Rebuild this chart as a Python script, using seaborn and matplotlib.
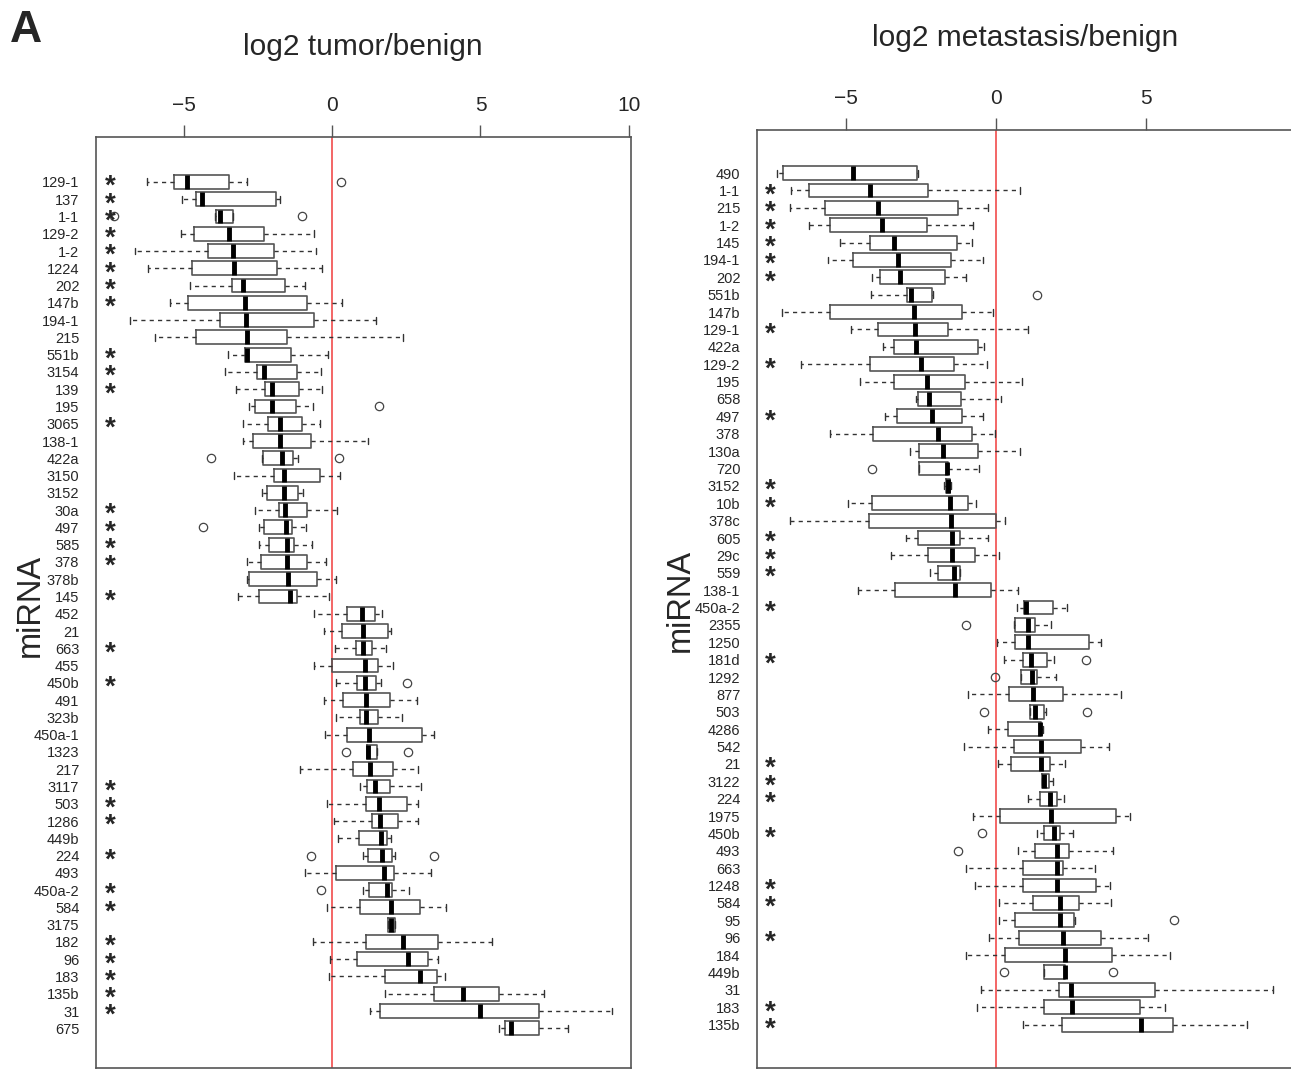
import numpy as np
import matplotlib
matplotlib.use("Agg")
from matplotlib import pyplot as plt
from matplotlib import transforms
from matplotlib.font_manager import FontProperties
import seaborn as sns

# Left panel - log2 tumor/benign (five number summaries)
TUMOR_MIRNA = ["129-1", "137", "1-1", "129-2", "1-2", "1224", "202", "147b", "194-1", "215",
               "551b", "3154", "139", "195", "3065", "138-1", "422a", "3150", "3152", "30a",
               "497", "585", "378", "378b", "145", "452", "21", "663", "455", "450b",
               "491", "323b", "450a-1", "1323", "217", "3117", "503", "1286", "449b", "224",
               "493", "450a-2", "584", "3175", "182", "96", "183", "135b", "31", "675"]
TUMOR_LO = [-6.22, -5.05, -3.95, -5.08, -6.64, -6.21, -4.79, -5.47, -6.80, -5.95,
            -3.51, -3.60, -3.22, -2.78, -2.99, -3.01, -2.37, -3.31, -2.35, -2.61,
            -2.46, -2.46, -2.86, -2.88, -3.18, -0.61, -0.26, 0.10, -0.61, 0.13,
            -0.27, 0.13, -0.25, 1.19, -1.07, 0.94, -0.18, 0.06, 0.19, 1.05,
            -0.92, 1.03, -0.16, 1.88, -0.65, -0.08, -0.10, 1.79, 1.28, 5.61]
TUMOR_Q1 = [-5.32, -4.59, -3.90, -4.64, -4.19, -4.73, -3.36, -4.86, -3.79, -4.59,
            -2.92, -2.54, -2.26, -2.61, -2.15, -2.65, -2.34, -1.95, -2.19, -1.77,
            -2.28, -2.13, -2.38, -2.81, -2.46, 0.49, 0.32, 0.80, 0.00, 0.85,
            0.38, 0.93, 0.52, 1.19, 0.72, 1.18, 1.13, 1.33, 0.91, 1.22,
            0.12, 1.25, 0.93, 1.88, 1.16, 0.83, 1.77, 3.42, 1.63, 5.82]
TUMOR_MED = [-4.89, -4.37, -3.79, -3.47, -3.34, -3.29, -2.99, -2.94, -2.91, -2.87,
             -2.87, -2.29, -2.02, -2.02, -1.76, -1.76, -1.69, -1.63, -1.63, -1.58,
             -1.54, -1.53, -1.50, -1.47, -1.40, 1.00, 1.03, 1.05, 1.10, 1.11,
             1.16, 1.16, 1.23, 1.22, 1.28, 1.44, 1.59, 1.60, 1.64, 1.68,
             1.75, 1.86, 1.97, 1.99, 2.38, 2.56, 2.96, 4.42, 4.99, 6.02]
TUMOR_Q3 = [-3.48, -1.89, -3.35, -2.28, -1.95, -1.85, -1.58, -0.85, -0.60, -1.53,
            -1.37, -1.18, -1.10, -1.23, -1.02, -0.70, -1.33, -0.40, -1.13, -0.85,
            -1.36, -1.28, -0.85, -0.49, -1.18, 1.46, 1.88, 1.33, 1.54, 1.49,
            1.94, 1.54, 3.04, 1.53, 2.06, 1.95, 2.54, 2.21, 1.86, 2.01,
            2.08, 2.01, 2.96, 2.11, 3.57, 3.23, 3.53, 5.63, 6.96, 6.97]
TUMOR_HI = [-2.88, -1.75, -3.33, -0.60, -0.53, -0.34, -0.91, 0.35, 1.47, 2.39,
            -0.13, -0.36, -0.34, -0.63, -0.41, 1.22, -1.16, 0.28, -0.98, 0.18,
            -0.88, -0.69, -0.21, 0.12, -0.09, 1.68, 1.98, 1.82, 2.06, 1.66,
            2.87, 2.35, 3.45, 1.53, 2.91, 3.01, 2.90, 2.90, 1.99, 2.13,
            3.32, 2.60, 3.83, 2.11, 5.38, 3.56, 3.82, 7.13, 9.44, 7.96]
TUMOR_OUTLIERS = {"129-1": [0.31], "1-1": [-7.33, -1.01], "195": [1.59],
                  "422a": [-4.07, 0.25], "497": [-4.35], "450b": [2.51],
                  "1323": [0.47, 2.55], "224": [-0.71, 3.45], "450a-2": [-0.36]}
TUMOR_STARS = ["129-1", "137", "1-1", "129-2", "1-2", "1224", "202", "147b", "551b", "3154",
               "139", "3065", "30a", "497", "585", "378", "145", "663", "450b", "3117",
               "503", "1286", "224", "450a-2", "584", "182", "96", "183", "135b", "31"]
TUMOR_TICKS = [-5, 0, 5, 10]

# Right panel - log2 metastasis/benign
MET_MIRNA = ["490", "1-1", "215", "1-2", "145", "194-1", "202", "551b", "147b", "129-1",
             "422a", "129-2", "195", "658", "497", "378", "130a", "720", "3152", "10b",
             "378c", "605", "29c", "559", "138-1", "450a-2", "2355", "1250", "181d", "1292",
             "877", "503", "4286", "542", "21", "3122", "224", "1975", "450b", "493",
             "663", "1248", "584", "95", "96", "184", "449b", "31", "183", "135b"]
MET_LO = [-7.29, -6.83, -6.88, -6.23, -5.20, -5.59, -4.15, -4.16, -7.13, -4.85,
          -3.76, -6.50, -4.54, -2.67, -3.71, -5.55, -2.87, -2.56, -1.74, -4.95,
          -6.88, -3.02, -3.52, -2.22, -4.62, 0.70, 0.61, 0.03, 0.26, 0.84,
          -0.95, 1.14, -0.26, -1.07, 0.06, 1.53, 1.07, -0.76, 1.35, 0.74,
          -1.00, -0.70, 0.09, 0.11, -0.25, -1.00, 1.60, -0.49, -0.65, 0.88]
MET_Q1 = [-7.09, -6.23, -5.69, -5.53, -4.22, -4.76, -3.87, -2.98, -5.53, -3.95,
          -3.42, -4.20, -3.42, -2.61, -3.32, -4.10, -2.56, -2.56, -1.67, -4.15,
          -4.25, -2.61, -2.27, -1.94, -3.37, 0.93, 0.64, 0.64, 0.89, 0.84,
          0.44, 1.14, 0.38, 0.59, 0.50, 1.53, 1.47, 0.14, 1.60, 1.28,
          0.89, 0.89, 1.23, 0.64, 0.76, 0.30, 1.60, 2.11, 1.58, 2.19]
MET_MED = [-4.76, -4.21, -3.95, -3.82, -3.41, -3.28, -3.21, -2.83, -2.74, -2.72,
           -2.66, -2.49, -2.29, -2.23, -2.14, -1.93, -1.77, -1.64, -1.62, -1.54,
           -1.49, -1.47, -1.47, -1.42, -1.38, 1.00, 1.05, 1.05, 1.15, 1.18,
           1.23, 1.30, 1.47, 1.50, 1.50, 1.58, 1.78, 1.84, 1.92, 2.02,
           2.04, 2.04, 2.14, 2.14, 2.24, 2.28, 2.31, 2.49, 2.53, 4.84]
MET_Q3 = [-2.63, -2.27, -1.27, -2.31, -1.29, -1.49, -1.72, -2.13, -1.14, -1.62,
          -0.60, -1.39, -1.03, -1.18, -1.14, -0.80, -0.59, -1.62, -1.54, -0.94,
          0.00, -1.20, -0.70, -1.22, -0.18, 1.90, 1.30, 3.10, 1.70, 1.35,
          2.24, 1.58, 1.49, 2.84, 1.80, 1.75, 2.02, 3.98, 2.12, 2.44,
          2.23, 3.33, 2.77, 2.59, 3.48, 3.85, 2.31, 5.29, 4.80, 5.89]
MET_HI = [-2.59, 0.79, -0.26, -0.78, -0.81, -0.43, -0.99, -2.11, -0.11, 1.05,
          -0.39, -0.29, 0.86, 0.16, -0.43, -0.05, 0.79, -0.58, -1.49, -0.68,
          0.29, -0.26, 0.09, -1.19, 0.74, 2.36, 1.84, 3.51, 1.94, 1.98,
          4.16, 1.67, 1.55, 3.75, 2.28, 1.88, 2.27, 4.46, 2.57, 3.88,
          3.28, 3.81, 3.83, 2.63, 5.05, 5.78, 2.31, 9.24, 5.63, 8.37]
MET_OUTLIERS = {"551b": [1.37], "720": [-4.15], "2355": [-1.02], "181d": [3.01],
                "1292": [-0.03], "503": [-0.39, 3.03], "493": [-1.27], "450b": [-0.46],
                "95": [5.94], "449b": [0.26, 3.90]}
MET_STARS = ["1-1", "215", "1-2", "145", "194-1", "202", "129-1", "129-2", "497", "3152",
             "10b", "605", "29c", "559", "450a-2", "181d", "21", "3122", "224", "450b",
             "1248", "584", "96", "183", "135b"]
MET_TICKS = [-5, 0, 5]

FONT = ["Liberation Sans", "DejaVu Sans"]
FRAME = "#555555"
STAR_SIZE = 20


def build_stats(names, lo, q1, med, q3, hi, outliers):
    # bxp wants a list of dicts, one per box
    stats = []
    for i, name in enumerate(names):
        stats.append({"label": name, "whislo": lo[i], "q1": q1[i], "med": med[i],
                      "q3": q3[i], "whishi": hi[i], "fliers": outliers.get(name, [])})
    return stats


def draw_panel(ax, names, stats, xlim, ylim, ticks):
    ax.axvline(0, color="#f03c3c", lw=1.1, zorder=1)
    ax.bxp(stats, positions=np.arange(len(names)), orientation="horizontal",
           widths=0.8, capwidths=0.4,
           boxprops=dict(color=FRAME, lw=1.2),
           whiskerprops=dict(color="#333333", lw=1.0, linestyle=(0, (3, 3))),
           capprops=dict(color="#333333", lw=1.0),
           medianprops=dict(color="black", lw=3.5, solid_capstyle="butt"),
           flierprops=dict(marker="o", markerfacecolor="none", markeredgecolor="#444444",
                           markersize=6, markeredgewidth=0.9, linestyle="none"))
    ax.set_xlim(*xlim)
    ax.set_ylim(*ylim)
    ax.set_xticks(ticks)
    ax.xaxis.tick_top()
    ax.tick_params(axis="x", length=9, width=1, color=FRAME, pad=7, labelsize=15)
    ax.tick_params(axis="y", length=7, width=1, color=FRAME, pad=5, labelsize=10.5)
    for s in ax.spines.values():
        s.set_color(FRAME)
        s.set_linewidth(1.2)
        s.set_visible(True)


def add_stars(fig, ax, names, stars, star_x):
    # One text column with one line per row (blank where no star).
    # Line step in matplotlib is ascent * linespacing + descent, so measure
    # both and pick the linespacing that gives exactly one row per line.
    renderer = fig.canvas.get_renderer()
    fp = FontProperties(family=FONT, weight="bold", size=STAR_SIZE)
    em = STAR_SIZE * fig.dpi / 72
    n = len(names)
    blend = transforms.blended_transform_factory(ax.transAxes, ax.transData)
    y0 = ax.transData.transform((0, 0))[1]
    row_px = abs(ax.transData.transform((0, 1))[1] - y0)

    column = "\n".join("*" if name in stars else " " for name in names)
    t = ax.text(star_x, 0, column, transform=blend, ha="center", va="top",
                fontproperties=fp, linespacing=1.0)
    h1 = t.get_window_extent(renderer).height
    t.set_linespacing(2.0)
    h2 = t.get_window_extent(renderer).height
    asc = (h2 - h1) / (n - 1)
    desc = h1 / n - asc
    t.set_linespacing((row_px - desc) / asc)

    # first baseline sits 0.43 em below the centre of row 0
    t.set_transform(blend + transforms.ScaledTranslation(
        0, (asc - 0.43 * em) / fig.dpi, fig.dpi_scale_trans))


def main():
    sns.set_theme(style="white")
    plt.rcParams["font.family"] = FONT
    plt.rcParams["axes.unicode_minus"] = True

    fig = plt.figure(figsize=(12.91, 10.71), dpi=100)
    W, H = 1291, 1071

    ax1 = fig.add_axes([96 / W, 1 - 1068 / H, 535 / W, (1068 - 137) / H])
    ax2 = fig.add_axes([757 / W, 1 - 1068 / H, 537 / W, (1068 - 130) / H])

    draw_panel(ax1, TUMOR_MIRNA,
               build_stats(TUMOR_MIRNA, TUMOR_LO, TUMOR_Q1, TUMOR_MED, TUMOR_Q3, TUMOR_HI, TUMOR_OUTLIERS),
               (-7.95, 10.07), (51.3, -2.6), TUMOR_TICKS)
    draw_panel(ax2, MET_MIRNA,
               build_stats(MET_MIRNA, MET_LO, MET_Q1, MET_MED, MET_Q3, MET_HI, MET_OUTLIERS),
               (-7.97, 9.93), (51.5, -2.48), MET_TICKS)

    add_stars(fig, ax1, TUMOR_MIRNA, TUMOR_STARS, 0.026)
    add_stars(fig, ax2, MET_MIRNA, MET_STARS, 0.024)

    # Titles, y labels and panel letter
    fig.text(363 / W, 1 - 47 / H, "log2 tumor/benign", ha="center", va="center", fontsize=21.5)
    fig.text(1025 / W, 1 - 38 / H, "log2 metastasis/benign", ha="center", va="center", fontsize=21.5)
    fig.text(30 / W, 1 - 605 / H, "miRNA", rotation=90, ha="center", va="center", fontsize=23.5)
    fig.text(680 / W, 1 - 600 / H, "miRNA", rotation=90, ha="center", va="center", fontsize=23.5)
    fig.text(10 / W, 1 - 30 / H, "A", ha="left", va="center", fontsize=32, fontweight="bold")

    fig.savefig("out.png", dpi=100)
    plt.close(fig)


if __name__ == "__main__":
    main()
